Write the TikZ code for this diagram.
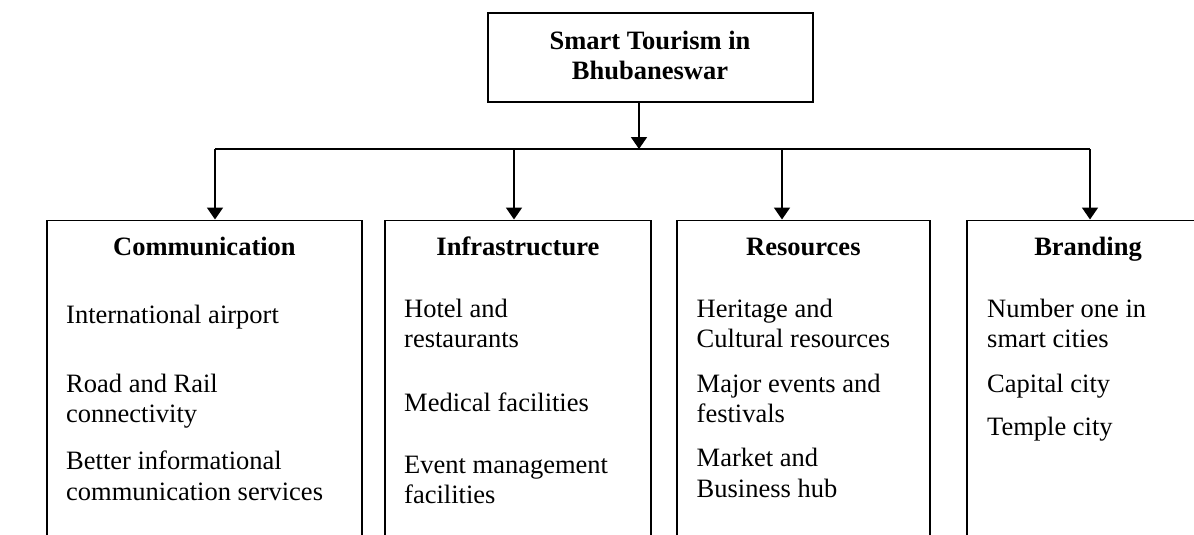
\documentclass[tikz,border=0pt]{standalone}
\usepackage{fontspec}
\setmainfont{Liberation Serif}
\usetikzlibrary{arrows.meta}
\begin{document}
\begin{tikzpicture}[x=1pt,y=-1pt,
  box/.style={draw=black,line width=1.8pt,fill=white,rectangle,inner sep=0pt},
  conn/.style={draw=black,line width=1.8pt},
  arr/.style={conn,-{Triangle[width=16pt,length=12pt]}},
  head/.style={anchor=base,inner sep=0pt,font=\fontsize{26.5}{30}\selectfont\bfseries},
  item/.style={anchor=base west,inner sep=0pt,font=\fontsize{26.5}{30}\selectfont},
  ttl/.style={anchor=base,inner sep=0pt,font=\fontsize{26.5}{30}\selectfont\bfseries}]
\useasboundingbox (0,0) rectangle (1194,535);
\clip (0,0) rectangle (1194,535);
\fill[white] (0,0) rectangle (1194,535);

% title box
\node[box,minimum width=325pt,minimum height=89pt] (top) at (650.5,57.5) {};
\node[ttl] (t1) at (650,50) {Smart Tourism in};
\node[ttl] (t2) at (650,80) {Bhubaneswar};

% category boxes (bottoms run off the picture)
\node[box,minimum width=315pt,minimum height=341pt,anchor=north west] (comm) at (46,219.5) {};
\node[box,minimum width=266pt,minimum height=341pt,anchor=north west] (infra) at (384,219.5) {};
\node[box,minimum width=253pt,minimum height=341pt,anchor=north west] (res) at (676,219.5) {};
\node[box,minimum width=250pt,minimum height=341pt,anchor=north west] (brand) at (966,219.5) {};

% connectors
\coordinate (hm) at (639,149);
\coordinate (hc) at (215,149);
\coordinate (hi) at (514,149);
\coordinate (hr) at (782,149);
\coordinate (hb) at (1090,149);
\draw[arr] (hm |- top.south) -- (hm);
\draw[conn] (hc) -- (hb);
\draw[arr] (hc) -- (hc |- comm.north);
\draw[arr] (hi) -- (hi |- infra.north);
\draw[arr] (hr) -- (hr |- res.north);
\draw[arr] (hb) -- (hb |- brand.north);

% headings
\node[head] (hcomm) at (comm.north |- 0,255) {Communication};
\node[head] (hinfra) at (infra.north |- 0,255) {Infrastructure};
\node[head] (hres) at (res.north |- 0,255) {Resources};
\node[head] (hbrand) at (1088,255) {Branding};

% Communication items
\node[item] (c1) at (66,323) {International airport};
\node[item] (c2a) at (66,392.5) {Road and Rail};
\node[item] (c2b) at (66,422) {connectivity};
\node[item] (c3a) at (66,469.5) {Better informational};
\node[item] (c3b) at (66,500) {communication services};

% Infrastructure items
\node[item] (i1a) at (404,317) {Hotel and};
\node[item] (i1b) at (404,347.5) {restaurants};
\node[item] (i2) at (404,411) {Medical facilities};
\node[item] (i3a) at (404,473) {Event management};
\node[item] (i3b) at (404,503) {facilities};

% Resources items
\node[item] (r1a) at (696.5,317) {Heritage and};
\node[item] (r1b) at (696.5,347.5) {Cultural resources};
\node[item] (r2a) at (696.5,392) {Major events and};
\node[item] (r2b) at (696.5,422) {festivals};
\node[item] (r3a) at (696.5,466.5) {Market and};
\node[item] (r3b) at (696.5,497) {Business hub};

% Branding items
\node[item] (b1a) at (987,317) {Number one in};
\node[item] (b1b) at (987,347.5) {smart cities};
\node[item] (b2) at (987,392) {Capital city};
\node[item] (b3) at (987,435) {Temple city};
\end{tikzpicture}
\end{document}
